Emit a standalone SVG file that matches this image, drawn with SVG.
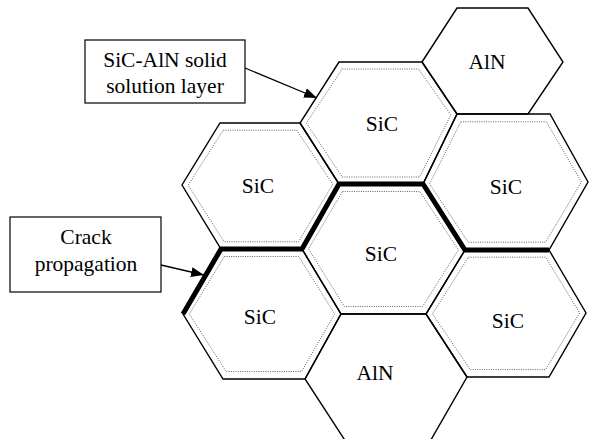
<svg xmlns="http://www.w3.org/2000/svg" width="590" height="439" viewBox="0 0 590 439">
  <style>
    .grain { fill: none; stroke: #000; stroke-width: 1.4; stroke-linejoin: miter; }
    .layer { fill: none; stroke: #555; stroke-width: 0.9; stroke-dasharray: 1 1.3; }
    .lbl { font-family: 'Liberation Serif', 'Times New Roman', 'DejaVu Serif', serif; font-size: 21.5px; fill: #000; text-anchor: middle; }
    .box { fill: #fff; stroke: #000; stroke-width: 1.2; }
    .arrow { fill: none; stroke: #000; stroke-width: 1.3; marker-end: url(#head); }
    .crack { fill: none; stroke: #000; stroke-width: 5; stroke-linejoin: miter; stroke-linecap: butt; }
  </style>
  <defs>
    <marker id="head" markerUnits="userSpaceOnUse" markerWidth="14" markerHeight="12" refX="13" refY="5" orient="auto">
      <path d="M0,0 L13,5 L0,10 z" fill="#000"/>
    </marker>
  </defs>

  <rect width="590" height="439" fill="#fff"/>

  <!-- AlN grains -->
  <g id="aln-top">
    <polygon class="grain" points="422,62 457,8 528,8 563,62 528,114 457,114"/>
    <text class="lbl" x="487" y="69" font-family="Liberation Serif">AlN</text>
  </g>
  <g id="aln-bottom">
    <polygon class="grain" points="341,314 426,314 467,377 428,445 348,445 305,379"/>
    <text class="lbl" x="375" y="380" font-family="Liberation Serif">AlN</text>
  </g>

  <!-- SiC grains: outer boundary plus the inner edge of the solid solution layer -->
  <g id="sic-top">
    <polygon class="grain" points="339,62 422,62 457,114 423,184 339,184 300,123"/>
    <polygon class="layer" points="342.3,69 418.6,69 450.8,115 419.6,177 342.3,177 306.4,123"/>
    <text class="lbl" x="382" y="131" font-family="Liberation Serif">SiC</text>
  </g>
  <g id="sic-left">
    <polygon class="grain" points="220,123 300,123 339,184 302,249 221,249 182,185"/>
    <polygon class="layer" points="223.2,130.2 296.8,130.2 332.7,184.2 298.6,241.8 224.1,241.8 188.2,185.1"/>
    <text class="lbl" x="258" y="193" font-family="Liberation Serif">SiC</text>
  </g>
  <g id="sic-center">
    <polygon class="grain" points="339,184 423,184 465,250 426,314 341,314 302,249"/>
    <polygon class="layer" points="342.5,191.5 419.8,191.5 458.4,249.9 422.6,306.5 344.4,306.5 308.5,249"/>
    <text class="lbl" x="381" y="261" font-family="Liberation Serif">SiC</text>
  </g>
  <g id="sic-right-upper">
    <polygon class="grain" points="457,114 550,114 588,182 549,250 465,250 423,184"/>
    <polygon class="layer" points="460.8,121.8 546.4,121.8 581.4,182 545.5,242.2 468.2,242.2 429.6,183.8"/>
    <text class="lbl" x="506" y="194" font-family="Liberation Serif">SiC</text>
  </g>
  <g id="sic-right-lower">
    <polygon class="grain" points="465,250 549,250 586,313 549,377 467,377 426,314"/>
    <polygon class="layer" points="468.4,257.2 545.6,257.2 579.7,313 545.6,369.6 470.2,369.6 432.5,313.9"/>
    <text class="lbl" x="508" y="328" font-family="Liberation Serif">SiC</text>
  </g>
  <g id="sic-bottom-left">
    <polygon class="grain" points="221,249 302,249 341,314 305,379 223,379 183,314"/>
    <polygon class="layer" points="224.3,256.5 298.8,256.5 334.7,314 301.6,371.5 226.1,371.5 189.3,314"/>
    <text class="lbl" x="260" y="324" font-family="Liberation Serif">SiC</text>
  </g>

  <!-- crack path along the grain boundaries -->
  <g id="crack">
    <polyline class="crack" points="183,314 221,249 302,249 339,184 423,184 465,250 549,250"/>
  </g>

  <!-- callout boxes -->
  <g id="label-layer">
    <rect class="box" x="85" y="40" width="160" height="63"/>
    <text class="lbl" x="165" y="67" font-family="Liberation Serif">SiC-AlN solid</text>
    <text class="lbl" x="165" y="93" font-family="Liberation Serif">solution layer</text>
  </g>
  <g id="label-crack">
    <rect class="box" x="10" y="217" width="151" height="75"/>
    <text class="lbl" x="86" y="244" font-family="Liberation Serif">Crack</text>
    <text class="lbl" x="86" y="271" font-family="Liberation Serif">propagation</text>
  </g>

  <!-- connectors -->
  <g id="connectors">
    <line class="arrow" x1="245" y1="68" x2="317" y2="98"/>
    <line class="arrow" x1="161" y1="265" x2="204" y2="275"/>
  </g>
</svg>
